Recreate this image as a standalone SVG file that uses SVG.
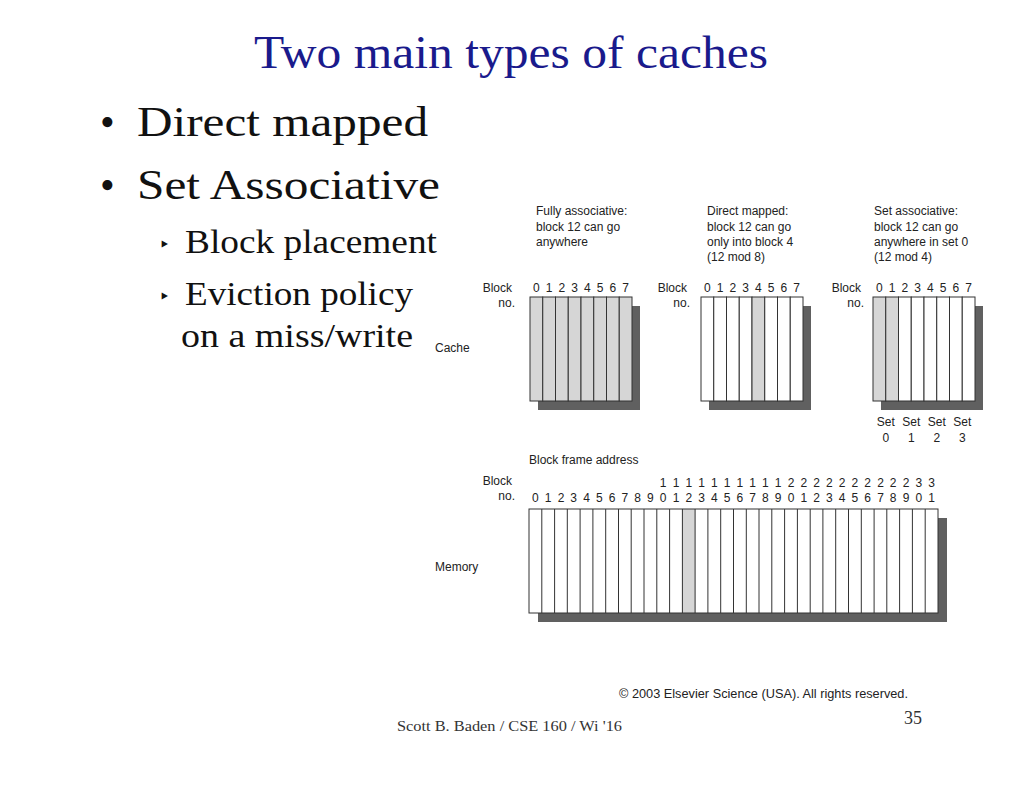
<svg xmlns="http://www.w3.org/2000/svg" width="1024" height="791" viewBox="0 0 1024 791">
<style>
.t{font-family:"Liberation Serif",serif}
.s{font-family:"Liberation Sans",Arial,sans-serif;font-size:12px;fill:#222}
.c{stroke:#333;stroke-width:1}
.w{fill:#fff}
.g{fill:#d6d6d6}
.sh{fill:#606060}
</style>
<rect width="1024" height="791" fill="#fff"/>
<g id="title"><text class="t" x="254" y="68" font-size="46" fill="#1a1a8c" textLength="514" lengthAdjust="spacingAndGlyphs">Two main types of caches</text></g>
<g id="bullets" class="t" font-size="42" fill="#111">
<text x="100" y="136">•</text><text x="137" y="136" textLength="291" lengthAdjust="spacingAndGlyphs">Direct mapped</text>
<text x="100" y="199">•</text><text x="137" y="199" textLength="303" lengthAdjust="spacingAndGlyphs">Set Associative</text>
<text x="160" y="253" font-size="24">‣</text><text x="185" y="253" font-size="34" textLength="252" lengthAdjust="spacingAndGlyphs">Block placement</text>
<text x="160" y="305" font-size="24">‣</text><text x="185" y="305" font-size="34" textLength="228" lengthAdjust="spacingAndGlyphs">Eviction policy</text>
<text x="181" y="347" font-size="34" textLength="232" lengthAdjust="spacingAndGlyphs">on a miss/write</text>
</g>
<g id="captions" class="s">
<text x="536" y="215">Fully associative:</text><text x="536" y="231">block 12 can go</text><text x="536" y="246">anywhere</text>
<text x="707" y="215">Direct mapped:</text><text x="707" y="231">block 12 can go</text><text x="707" y="246">only into block 4</text><text x="707" y="261">(12 mod 8)</text>
<text x="874" y="215">Set associative:</text><text x="874" y="231">block 12 can go</text><text x="874" y="246">anywhere in set 0</text><text x="874" y="261">(12 mod 4)</text>
<text x="435" y="352">Cache</text>
<text x="435" y="571">Memory</text>
<text x="529" y="464">Block frame address</text>
<text x="512" y="292" text-anchor="end">Block</text><text x="515" y="307" text-anchor="end">no.</text>
<text x="687" y="292" text-anchor="end">Block</text><text x="690" y="307" text-anchor="end">no.</text>
<text x="861" y="292" text-anchor="end">Block</text><text x="864" y="307" text-anchor="end">no.</text>
<text x="512" y="485" text-anchor="end">Block</text><text x="515" y="500" text-anchor="end">no.</text>
<text x="619" y="698" textLength="289" lengthAdjust="spacingAndGlyphs">© 2003 Elsevier Science (USA). All rights reserved.</text>
</g>
<g id="cache-fa">
<rect class="sh" x="538" y="306" width="102" height="104"/>
<g class="c g">
<rect x="530" y="297" width="12.75" height="104"/><rect x="542.75" y="297" width="12.75" height="104"/><rect x="555.5" y="297" width="12.75" height="104"/><rect x="568.25" y="297" width="12.75" height="104"/><rect x="581" y="297" width="12.75" height="104"/><rect x="593.75" y="297" width="12.75" height="104"/><rect x="606.5" y="297" width="12.75" height="104"/><rect x="619.25" y="297" width="12.75" height="104"/>
</g>
<text class="s" y="292" text-anchor="middle"><tspan x="536.4">0</tspan><tspan x="549.1">1</tspan><tspan x="561.9">2</tspan><tspan x="574.6">3</tspan><tspan x="587.4">4</tspan><tspan x="600.1">5</tspan><tspan x="612.9">6</tspan><tspan x="625.6">7</tspan></text>
</g>
<g id="cache-dm">
<rect class="sh" x="709" y="306" width="102" height="104"/>
<g class="c w">
<rect x="701" y="297" width="12.75" height="104"/><rect x="713.75" y="297" width="12.75" height="104"/><rect x="726.5" y="297" width="12.75" height="104"/><rect x="739.25" y="297" width="12.75" height="104"/><rect class="g" x="752" y="297" width="12.75" height="104"/><rect x="764.75" y="297" width="12.75" height="104"/><rect x="777.5" y="297" width="12.75" height="104"/><rect x="790.25" y="297" width="12.75" height="104"/>
</g>
<text class="s" y="292" text-anchor="middle"><tspan x="707.4">0</tspan><tspan x="720.1">1</tspan><tspan x="732.9">2</tspan><tspan x="745.6">3</tspan><tspan x="758.4">4</tspan><tspan x="771.1">5</tspan><tspan x="783.9">6</tspan><tspan x="796.6">7</tspan></text>
</g>
<g id="cache-sa">
<rect class="sh" x="881" y="306" width="102" height="104"/>
<g class="c w">
<rect class="g" x="873" y="297" width="12.75" height="104"/><rect class="g" x="885.75" y="297" width="12.75" height="104"/><rect x="898.5" y="297" width="12.75" height="104"/><rect x="911.25" y="297" width="12.75" height="104"/><rect x="924" y="297" width="12.75" height="104"/><rect x="936.75" y="297" width="12.75" height="104"/><rect x="949.5" y="297" width="12.75" height="104"/><rect x="962.25" y="297" width="12.75" height="104"/>
</g>
<text class="s" y="292" text-anchor="middle"><tspan x="879.4">0</tspan><tspan x="892.1">1</tspan><tspan x="904.9">2</tspan><tspan x="917.6">3</tspan><tspan x="930.4">4</tspan><tspan x="943.1">5</tspan><tspan x="955.9">6</tspan><tspan x="968.6">7</tspan></text>
<text class="s" y="426" text-anchor="middle"><tspan x="885.8">Set</tspan><tspan x="911.3">Set</tspan><tspan x="936.8">Set</tspan><tspan x="962.3">Set</tspan></text>
<text class="s" y="442" text-anchor="middle"><tspan x="885.8">0</tspan><tspan x="911.3">1</tspan><tspan x="936.8">2</tspan><tspan x="962.3">3</tspan></text>
</g>
<g id="memory">
<rect class="sh" x="538" y="518" width="409" height="104"/>
<rect class="w" x="529" y="509" width="409" height="104"/>
<rect class="g" x="682.4" y="509" width="12.78" height="104"/>
<g class="c" fill="none">
<rect x="529" y="509" width="409" height="104"/>
<path d="M541.8 509v104M554.6 509v104M567.3 509v104M580.1 509v104M592.9 509v104M605.7 509v104M618.5 509v104M631.2 509v104M644 509v104M656.8 509v104M669.6 509v104M682.4 509v104M695.1 509v104M707.9 509v104M720.7 509v104M733.5 509v104M746.3 509v104M759 509v104M771.8 509v104M784.6 509v104M797.4 509v104M810.2 509v104M822.9 509v104M835.7 509v104M848.5 509v104M861.3 509v104M874.1 509v104M886.8 509v104M899.6 509v104M912.4 509v104M925.2 509v104"/>
</g>
<text class="s" y="487" text-anchor="middle"><tspan x="663.2">1</tspan><tspan x="676">1</tspan><tspan x="688.8">1</tspan><tspan x="701.5">1</tspan><tspan x="714.3">1</tspan><tspan x="727.1">1</tspan><tspan x="739.9">1</tspan><tspan x="752.7">1</tspan><tspan x="765.4">1</tspan><tspan x="778.2">1</tspan><tspan x="791">2</tspan><tspan x="803.8">2</tspan><tspan x="816.6">2</tspan><tspan x="829.3">2</tspan><tspan x="842.1">2</tspan><tspan x="854.9">2</tspan><tspan x="867.7">2</tspan><tspan x="880.5">2</tspan><tspan x="893.2">2</tspan><tspan x="906">2</tspan><tspan x="918.8">3</tspan><tspan x="931.6">3</tspan></text>
<text class="s" y="502" text-anchor="middle"><tspan x="535.4">0</tspan><tspan x="548.2">1</tspan><tspan x="561">2</tspan><tspan x="573.7">3</tspan><tspan x="586.5">4</tspan><tspan x="599.3">5</tspan><tspan x="612.1">6</tspan><tspan x="624.9">7</tspan><tspan x="637.6">8</tspan><tspan x="650.4">9</tspan><tspan x="663.2">0</tspan><tspan x="676">1</tspan><tspan x="688.8">2</tspan><tspan x="701.5">3</tspan><tspan x="714.3">4</tspan><tspan x="727.1">5</tspan><tspan x="739.9">6</tspan><tspan x="752.7">7</tspan><tspan x="765.4">8</tspan><tspan x="778.2">9</tspan><tspan x="791">0</tspan><tspan x="803.8">1</tspan><tspan x="816.6">2</tspan><tspan x="829.3">3</tspan><tspan x="842.1">4</tspan><tspan x="854.9">5</tspan><tspan x="867.7">6</tspan><tspan x="880.5">7</tspan><tspan x="893.2">8</tspan><tspan x="906">9</tspan><tspan x="918.8">0</tspan><tspan x="931.6">1</tspan></text>
</g>
<g id="footer" class="t" fill="#333">
<text x="397" y="731" font-size="15" textLength="225" lengthAdjust="spacingAndGlyphs">Scott B. Baden / CSE 160 / Wi '16</text>
<text x="913" y="724" text-anchor="middle" font-size="18">35</text>
</g>
<g id="connectors"/>
</svg>
